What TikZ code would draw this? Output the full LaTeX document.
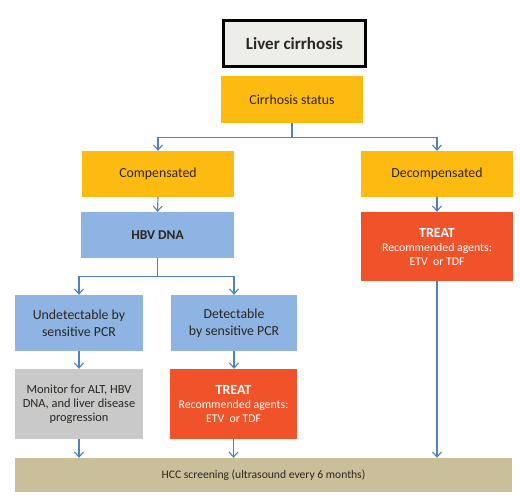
\documentclass[tikz,border=0pt]{standalone}
\usepackage{fontspec}
\setmainfont{Carlito}
\usetikzlibrary{arrows.meta}
\definecolor{amber}{HTML}{FDBB12}
\definecolor{skyblue}{HTML}{8DB4E2}
\definecolor{redorange}{HTML}{F0522A}
\definecolor{lightgray}{HTML}{C9C9C9}
\definecolor{khaki}{HTML}{C9BF9A}
\definecolor{steelline}{HTML}{4F81BD}
\definecolor{ink}{HTML}{2B2620}
\definecolor{paper}{HTML}{EEEEE8}
\begin{document}
\begin{tikzpicture}[x=1pt,y=-1pt,
        box/.style={inner sep=0pt,align=center,text=ink,font=\fontsize{13.8}{17}\selectfont},
        treatbox/.style={box,fill=redorange,text=white,font=\fontsize{11.8}{14}\selectfont},
        arr/.style={draw=steelline,line width=1.1pt,-{Straight Barb[length=5pt,width=9pt]}}]
        \useasboundingbox (0,0) rectangle (520,499);

        \node[box,draw=black,line width=3pt,fill=paper,minimum width=142pt,minimum height=46pt,font=\fontsize{17}{20}\selectfont\bfseries](liver)at(294.5,43.5){Liver cirrhosis};
        \node[box,fill=amber,minimum width=142pt,minimum height=47pt](status)at(292,99.5){Cirrhosis status};

        \node[box,fill=amber,minimum width=152pt,minimum height=46pt](comp)at(158,174){Compensated};
        \node[box,fill=amber,minimum width=152pt,minimum height=46pt](decomp)at(437,174){Decompensated};
        \node[box,fill=skyblue,minimum width=153pt,minimum height=46pt,font=\fontsize{13.5}{17}\selectfont\bfseries](hbv)at(157.5,235){HBV DNA};
        \node[treatbox,minimum width=152pt,minimum height=69pt](treatR)at(437,246.5){{\fontsize{14}{17}\selectfont\bfseries TREAT}\\Recommended agents:\\ETV~ or TDF};

        \node[box,fill=skyblue,minimum width=128pt,minimum height=56pt](undet)at(79,323){Undetectable by\\sensitive PCR};
        \node[box,fill=skyblue,minimum width=126pt,minimum height=56pt](det)at(234,323){Detectable\\by sensitive PCR};
        \node[box,fill=lightgray,minimum width=128pt,minimum height=70pt,font=\fontsize{12.4}{14}\selectfont](monitor)at(79,404){Monitor for ALT, HBV\\DNA, and liver disease\\progression};
        \node[treatbox,minimum width=127pt,minimum height=70pt](treatL)at(233.5,404){{\fontsize{14}{17}\selectfont\bfseries TREAT}\\Recommended agents:\\ETV~ or TDF};

        \node[box,fill=khaki,minimum width=497pt,minimum height=34pt,font=\fontsize{11.6}{13}\selectfont](hcc)at(263.5,475){HCC screening (ultrasound every 6 months)};

        \draw[arr](status.south)--++(0,14)-|(comp.north);
        \draw[arr](status.south)--++(0,14)-|(decomp.north);
        \draw[arr](comp.south)--(hbv.north);
        \draw[arr](decomp.south)--(treatR.north);
        \draw[arr](hbv.south)--++(0,18)-|(undet.north);
        \draw[arr](hbv.south)--++(0,18)-|(det.north);
        \draw[arr](undet.south)--(monitor.north);
        \draw[arr](det.south)--(det.south|-treatL.north);
        \draw[arr](monitor.south)--(monitor.south|-hcc.north);
        \draw[arr](treatL.south)--(treatL.south|-hcc.north);
        \draw[arr](treatR.south)--(treatR.south|-hcc.north);
    \end{tikzpicture}
\end{document}
